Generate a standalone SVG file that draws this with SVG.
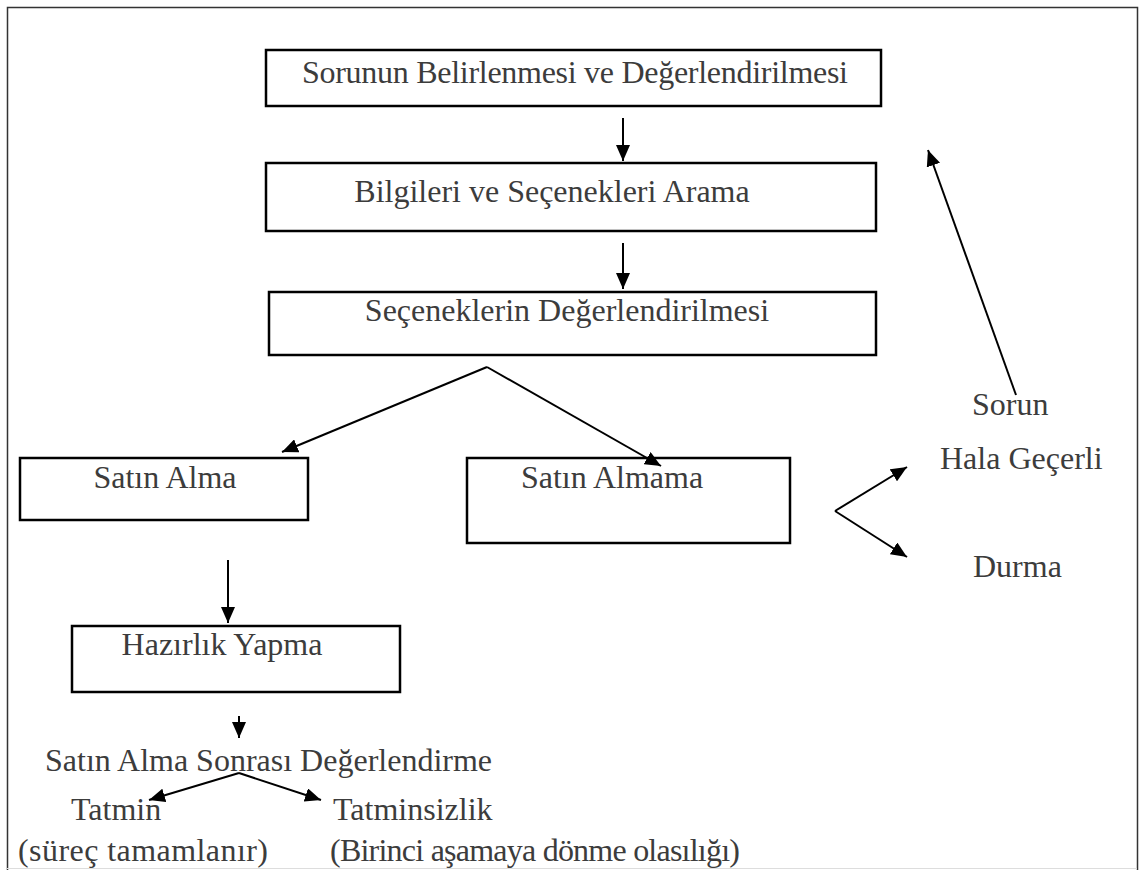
<svg xmlns="http://www.w3.org/2000/svg" width="1144" height="870" viewBox="0 0 1144 870">
<style>
.box{fill:#fff;stroke:#000;stroke-width:2.5}
.t{font-family:"Liberation Serif","Times New Roman",serif;font-size:32px;fill:#3c3c3c}
.c{text-anchor:middle}
.ln{stroke:#000;stroke-width:2;fill:none;marker-end:url(#ah)}
</style>
<defs>
<marker id="ah" markerUnits="userSpaceOnUse" markerWidth="18" markerHeight="14" refX="16" refY="7" orient="auto">
<path d="M0,0 L16,7 L0,14 z" fill="#000"/>
</marker>
</defs>
<rect width="1144" height="870" fill="#fff"/>
<path d="M7.5,870 V7.5 H1137.5 V870" fill="none" stroke="#333" stroke-width="1.5"/>
<line x1="7" y1="868.5" x2="1137" y2="868.5" stroke="#ddd" stroke-width="1"/>

<g id="n1"><rect class="box" x="266" y="50" width="615" height="56"/><text class="t c" x="575" y="83" textLength="546">Sorunun Belirlenmesi ve Değerlendirilmesi</text></g>
<g id="n2"><rect class="box" x="266" y="163" width="610" height="68"/><text class="t c" x="552" y="202">Bilgileri ve Seçenekleri Arama</text></g>
<g id="n3"><rect class="box" x="269" y="292" width="607" height="63"/><text class="t c" x="567" y="321">Seçeneklerin Değerlendirilmesi</text></g>
<g id="n4"><rect class="box" x="20" y="458" width="288" height="62"/><text class="t c" x="165" y="488">Satın Alma</text></g>
<g id="n5"><rect class="box" x="467" y="458" width="323" height="85"/><text class="t c" x="612" y="488">Satın Almama</text></g>
<g id="n6"><rect class="box" x="72" y="626" width="328" height="66"/><text class="t c" x="222" y="655">Hazırlık Yapma</text></g>
<g id="n7"><text class="t" x="45" y="771">Satın Alma Sonrası Değerlendirme</text></g>
<g id="n8"><text class="t" x="71" y="820">Tatmin</text></g>
<g id="n9"><text class="t" x="333" y="820">Tatminsizlik</text></g>
<g id="n10"><text class="t" x="18" y="861" textLength="250">(süreç tamamlanır)</text></g>
<g id="n11"><text class="t" x="330" y="861" textLength="410">(Birinci aşamaya dönme olasılığı)</text></g>
<g id="n12"><text class="t" x="972" y="415">Sorun</text></g>
<g id="n13"><text class="t" x="940" y="469">Hala Geçerli</text></g>
<g id="n14"><text class="t" x="973" y="577">Durma</text></g>

<g id="connectors">
<line class="ln" x1="623" y1="118" x2="623" y2="161"/>
<line class="ln" x1="623" y1="243" x2="623" y2="289"/>
<polyline class="ln" points="487,367 282,452"/>
<polyline class="ln" points="487,367 661,466"/>
<line class="ln" x1="228" y1="560" x2="228" y2="623"/>
<line class="ln" x1="239" y1="716" x2="239" y2="738"/>
<line class="ln" x1="239" y1="773" x2="149" y2="800"/>
<line class="ln" x1="239" y1="773" x2="321" y2="800"/>
<line class="ln" x1="835" y1="511" x2="907" y2="467"/>
<line class="ln" x1="835" y1="511" x2="907" y2="557"/>
<line class="ln" x1="1016" y1="395" x2="928" y2="150"/>
</g>
</svg>
